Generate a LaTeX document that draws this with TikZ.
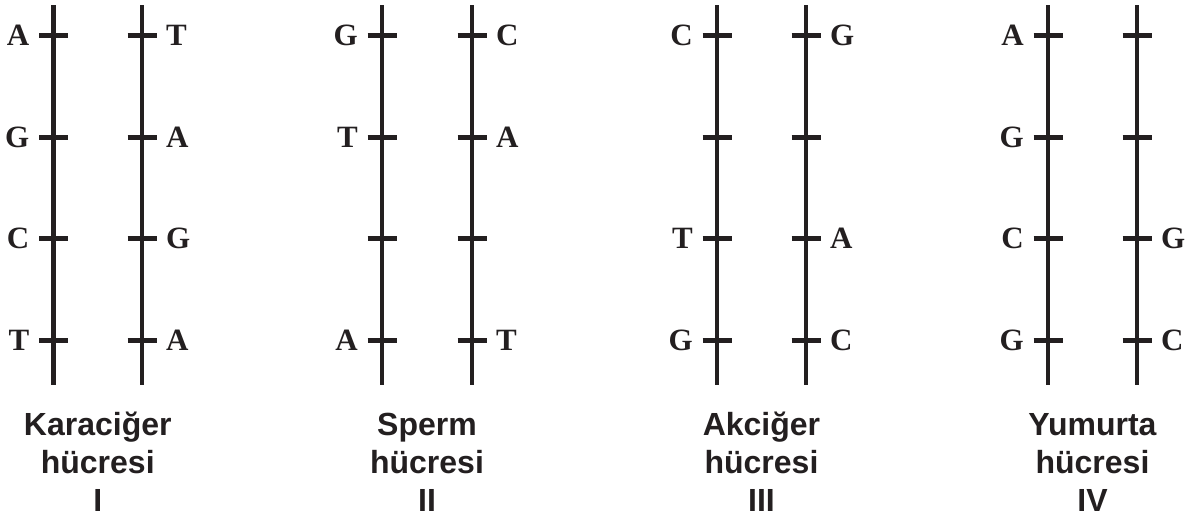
\documentclass[tikz,border=0pt]{standalone}
\usepackage{fontspec}
\setmainfont{Liberation Serif}
\setsansfont{Liberation Sans}
\usetikzlibrary{positioning}
\definecolor{ink}{HTML}{231F20}
\tikzset{
  strand/.style={line width=4.5pt,draw=ink},
  rung/.style={line width=5pt,draw=ink},
  base/.style={font=\fontsize{31}{32}\selectfont\bfseries,text=ink,inner sep=0pt},
  cell/.style={font=\fontsize{32}{38}\selectfont\sffamily\bfseries,text=ink,
    align=center,anchor=north,inner sep=0pt}
}
\begin{document}
\begin{tikzpicture}[x=1pt,y=-1pt]
  \useasboundingbox (0,0) rectangle (1192,523);
  % strands with their four rungs
  \foreach \n/\x in {a/53.5,b/142,c/382,d/472,e/717,f/806,g/1048,h/1137}{
    \coordinate (\n top) at (\x,5);
    \coordinate (\n bot) at (\x,385);
    \draw[strand] (\n top) -- (\n bot);
    \foreach \y [count=\i] in {35,137,238,340}{
      \coordinate (\n\i) at (\x,\y+0.5);
      \draw[rung] ([xshift=-14.5pt]\n\i) -- ([xshift=14.5pt]\n\i);
    }
  }
  % bases on the left of a strand
  \foreach \s/\i/\t in {a/1/A,a/2/G,a/3/C,a/4/T,c/1/G,c/2/T,c/4/A,
      e/1/C,e/3/T,e/4/G,g/1/A,g/2/G,g/3/C,g/4/G}
    \node[base,left=24pt of \s\i] (l\s\i) {\t};
  % bases on the right of a strand
  \foreach \s/\i/\t in {b/1/T,b/2/A,b/3/G,b/4/A,d/1/C,d/2/A,d/4/T,
      f/1/G,f/3/A,f/4/C,h/3/G,h/4/C}
    \node[base,right=24pt of \s\i] (r\s\i) {\t};
  % cell names
  \node[cell] (cellI) at (97.75,408.5) {\strut Karaciğer\\hücresi\\I};
  \node[cell] (cellII) at (427,408.5) {\strut Sperm\\hücresi\\II};
  \node[cell] (cellIII) at (761.5,408.5) {\strut Akciğer\\hücresi\\III};
  \node[cell] (cellIV) at (1092.5,408.5) {\strut Yumurta\\hücresi\\IV};
\end{tikzpicture}
\end{document}
